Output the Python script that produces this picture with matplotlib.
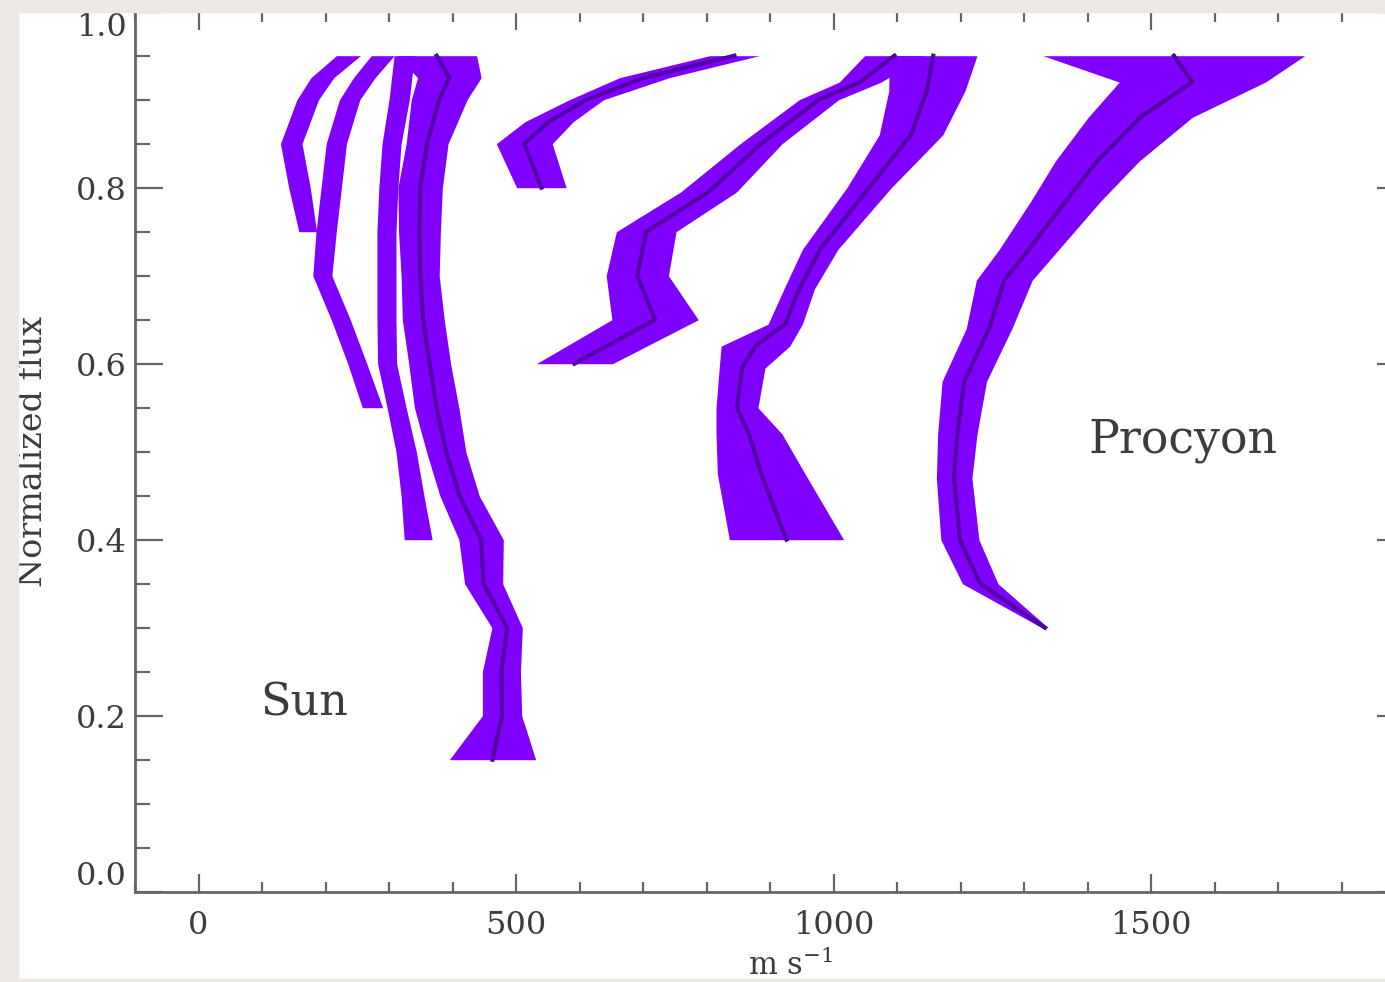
import numpy as np
import matplotlib.pyplot as plt
from matplotlib.patches import Rectangle
from matplotlib.ticker import MultipleLocator

# bisector bands : flux level, bisector velocity (m/s), error (m/s)
sun1_flux = [0.95, 0.925, 0.90, 0.85, 0.80, 0.75]
sun1_vel = [236, 195, 172, 146, 159, 172]
sun1_err = [19, 18, 17, 17, 17, 14]

sun2_flux = [0.95, 0.925, 0.90, 0.85, 0.80, 0.75, 0.70, 0.65, 0.60, 0.55]
sun2_vel = [290, 261, 238, 217, 209, 201, 195, 224, 250, 274]
sun2_err = [18, 17, 16, 16, 16, 16, 15, 15, 15, 16]

sun3_flux = [0.95, 0.90, 0.85, 0.80, 0.75, 0.70, 0.65, 0.60, 0.55, 0.50, 0.45, 0.40]
sun3_vel = [324, 316, 304, 299, 296, 296, 296, 297, 312, 327, 337, 346]
sun3_err = [16, 16, 15, 15, 15, 15, 15, 15, 15, 16, 18, 22]

sun4_flux = [0.95, 0.925, 0.90, 0.85, 0.80, 0.75, 0.70, 0.65, 0.60, 0.55, 0.50,
             0.45, 0.40, 0.35, 0.30, 0.25, 0.20, 0.15]
sun4_vel = [375, 395, 379, 360, 349, 348, 349, 354, 364, 375, 390,
            411, 445, 449, 486, 477, 478, 463]
sun4_err = [63, 50, 44, 33, 35, 33, 30, 33, 33, 35, 31,
            31, 35, 30, 24, 30, 31, 68]

sun5_flux = [0.95, 0.925, 0.90, 0.875, 0.85, 0.80]
sun5_vel = [844, 702, 611, 552, 513, 540]
sun5_err = [39, 39, 27, 38, 44, 39]

star1_flux = [0.95, 0.92, 0.90, 0.85, 0.795, 0.75, 0.70, 0.65, 0.60]
star1_vel = [1096, 1042, 977, 886, 803, 705, 691, 719, 592]
star1_err = [47, 33, 31, 33, 44, 47, 49, 68, 60]

star2_flux = [0.95, 0.91, 0.86, 0.80, 0.73, 0.685, 0.645, 0.62, 0.595, 0.55,
              0.52, 0.475, 0.40]
star2_vel = [1157, 1147, 1122, 1056, 979, 946, 924, 877, 856, 848,
             867, 886, 926]
star2_err = [69, 60, 50, 35, 28, 24, 27, 54, 36, 33, 52, 69, 90]

procyon_flux = [0.95, 0.92, 0.88, 0.83, 0.785, 0.73, 0.695, 0.64, 0.58, 0.52,
                0.47, 0.40, 0.35, 0.30]
procyon_vel = [1536, 1565, 1483, 1415, 1366, 1308, 1269, 1245, 1206, 1195,
               1190, 1199, 1231, 1333]
procyon_err = [206, 115, 82, 66, 55, 47, 44, 36, 35, 31, 28, 30, 28, 5]

# (flux, vel, err, draw bisector line)
bands = [
    (sun1_flux, sun1_vel, sun1_err, False),
    (sun2_flux, sun2_vel, sun2_err, False),
    (sun3_flux, sun3_vel, sun3_err, False),
    (sun4_flux, sun4_vel, sun4_err, True),
    (sun5_flux, sun5_vel, sun5_err, True),
    (star1_flux, star1_vel, star1_err, True),
    (star2_flux, star2_vel, star2_err, True),
    (procyon_flux, procyon_vel, procyon_err, True),
]

FILL = '#8000ff'
LINE = '#5200a6'
TXT = '#3c3c3c'
AX = '#666666'
W, H = 1385, 982

plt.rcParams['font.family'] = 'DejaVu Serif'
plt.rcParams['mathtext.fontset'] = 'dejavuserif'

fig = plt.figure(figsize=(W / 100, H / 100), dpi=100)
ax = fig.add_axes([135 / W, 90.3 / H, 1270 / W, 880 / H])

for flux, vel, err, center in bands:
    f = np.array(flux)
    v = np.array(vel)
    e = np.array(err)
    ax.fill_betweenx(f, v - e, v + e, color=FILL, lw=0)
    if center:
        ax.plot(v, f, color=LINE, lw=3, solid_joinstyle='round')

ax.set_xlim(-100, 1900)
ax.set_ylim(0, 1)
ax.xaxis.set_major_locator(MultipleLocator(500))
ax.xaxis.set_minor_locator(MultipleLocator(100))
ax.yaxis.set_major_locator(MultipleLocator(0.2))
ax.yaxis.set_minor_locator(MultipleLocator(0.05))
ax.yaxis.set_major_formatter(plt.FuncFormatter(lambda y, p: f'{y:.1f}'))

ax.tick_params(which='both', direction='in', top=True, right=True,
               color=AX, width=1.6, labelcolor=TXT, labelsize=23)
ax.tick_params(axis='x', which='major', length=13, pad=13)
ax.tick_params(axis='x', which='minor', length=7)
ax.tick_params(axis='y', which='major', length=20, pad=6)
ax.tick_params(axis='y', which='minor', length=11)

for s in ['left', 'bottom', 'right']:
    ax.spines[s].set_color(AX)
    ax.spines[s].set_linewidth(2)
ax.spines['top'].set_visible(False)

fig.canvas.draw()
for lab in ax.get_yticklabels():
    if lab.get_text() == '1.0':
        lab.set_va('top')
    if lab.get_text() == '0.0':
        lab.set_va('bottom')

ax.set_ylabel('Normalized flux', fontsize=24, color=TXT)
ax.yaxis.set_label_coords(-0.068, 0.5)
ax.set_xlabel('m s$^{-1}$', fontsize=22, color=TXT, va='top')
ax.xaxis.set_label_coords(0.516, -0.066)

ax.text(167, 0.214, 'Sun', ha='center', va='center', fontsize=32, color=TXT)
ax.text(1550, 0.513, 'Procyon', ha='center', va='center', fontsize=33, color=TXT)

# grey frame of the scanned figure
border = '#ece8e4'
fig.add_artist(Rectangle((0, 0), 18 / W, 1, transform=fig.transFigure,
                         color=border, zorder=10))
fig.add_artist(Rectangle((0, 1 - 12 / H), 1, 12 / H, transform=fig.transFigure,
                         color=border, zorder=10))
fig.add_artist(Rectangle((0, 0), 1, 3 / H, transform=fig.transFigure,
                         color=border, zorder=10))

fig.savefig('out.png', dpi=100)
